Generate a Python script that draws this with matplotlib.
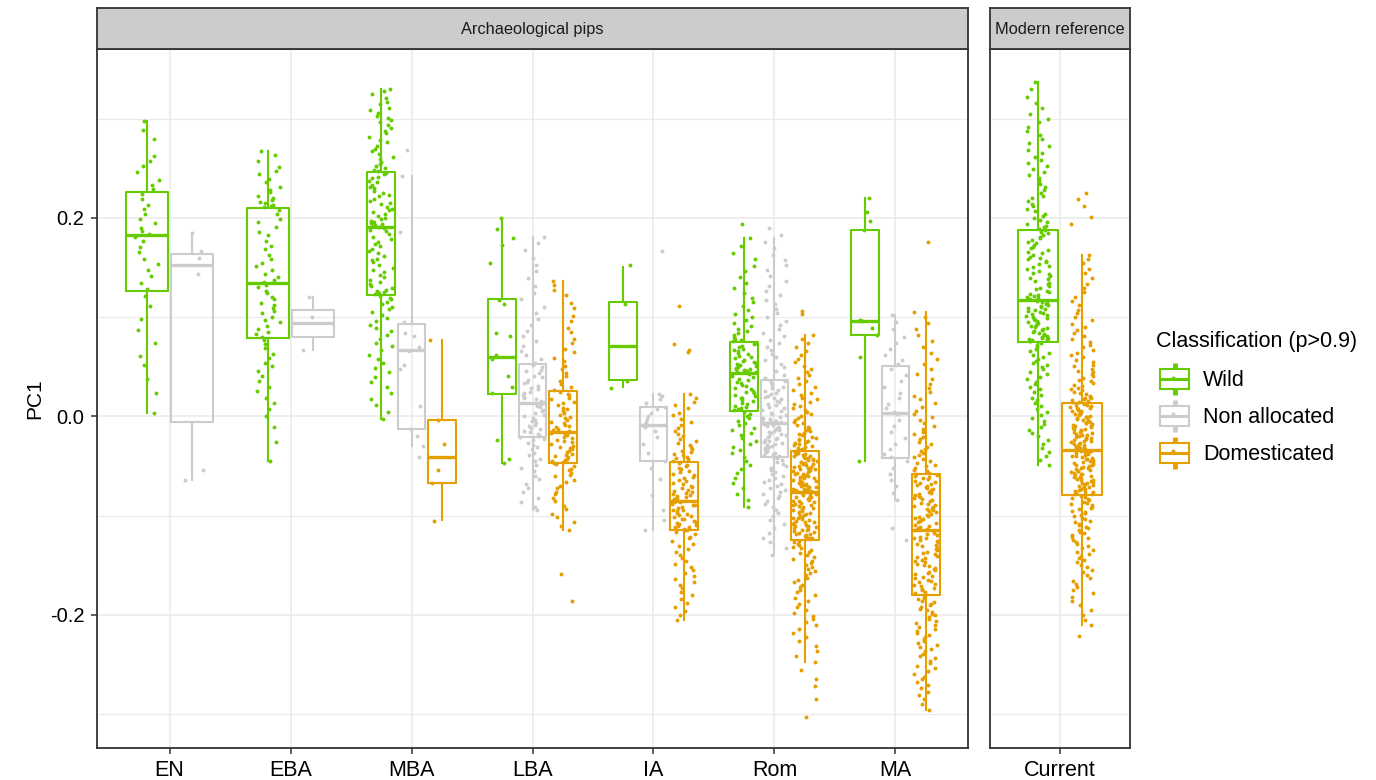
import numpy as np
import matplotlib.pyplot as plt
from matplotlib.patches import Rectangle

plt.rcParams['font.family'] = ['Liberation Sans', 'DejaVu Sans']

periods = ['EN', 'EBA', 'MBA', 'LBA', 'IA', 'Rom', 'MA']
modern = ['Current']
classes = ['Wild', 'Non allocated', 'Domesticated']
class_colours = ['#66CC00', '#CCCCCC', '#E69F00']

# one entry per box (PC1)
box_period = ['EN', 'EN', 'EBA', 'EBA', 'MBA', 'MBA', 'MBA', 'LBA', 'LBA', 'LBA',
              'IA', 'IA', 'IA', 'Rom', 'Rom', 'Rom', 'MA', 'MA', 'MA', 'Current', 'Current']
box_class = [0, 1, 0, 1, 0, 1, 2, 0, 1, 2, 0, 1, 2, 0, 1, 2, 0, 1, 2, 0, 2]
box_whislo = [0.003, -0.064, -0.045, 0.067, -0.003, -0.030, -0.104, -0.047, -0.094, -0.114,
              0.030, -0.114, -0.205, -0.091, -0.140, -0.247, -0.045, -0.084, -0.296, -0.049, -0.210]
box_q1 = [0.126, -0.006, 0.079, 0.080, 0.122, -0.013, -0.067, 0.023, -0.021, -0.047,
          0.037, -0.045, -0.114, 0.005, -0.041, -0.125, 0.082, -0.042, -0.180, 0.075, -0.079]
box_med = [0.183, 0.152, 0.134, 0.094, 0.191, 0.067, -0.041, 0.060, 0.013, -0.016,
           0.071, -0.009, -0.085, 0.044, -0.007, -0.076, 0.096, 0.003, -0.114, 0.117, -0.034]
box_q3 = [0.226, 0.164, 0.210, 0.107, 0.246, 0.093, -0.004, 0.118, 0.053, 0.026,
          0.115, 0.009, -0.046, 0.075, 0.037, -0.035, 0.188, 0.051, -0.058, 0.188, 0.013]
box_whishi = [0.297, 0.185, 0.267, 0.120, 0.330, 0.242, 0.077, 0.200, 0.181, 0.136,
              0.150, 0.023, 0.023, 0.180, 0.180, 0.082, 0.220, 0.102, 0.105, 0.337, 0.163]

# individual pips, PC1 in thousandths
en_wild = [297, 288, 279, 262, 257, 252, 246, 238, 233, 229, 224, 219, 213, 209, 204, 199, 195, 190,
           187, 184, 181, 177, 171, 166, 159, 153, 147, 141, 134, 128, 121, 111, 98, 87, 74, 61, 52, 38, 24, 3]
en_non = [185, 167, 160, 143, -54, -64]
eba_wild = [267, 263, 257, 251, 247, 244, 239, 236, 231, 228, 226, 222, 220, 218, 216, 215, 213, 212, 211,
            208, 204, 199, 196, 191, 186, 183, 177, 172, 169, 163, 159, 154, 151, 147, 143, 140, 137, 135,
            132, 130, 126, 124, 120, 118, 114, 112, 109, 106, 104, 100, 97, 95, 91, 88, 85, 83, 80,
            77, 73, 69, 63, 59, 54, 51, 46, 41, 36, 30, 26, 19, 13, 7, 0, -11, -26, -45]
eba_non = [120, 100, 67]
mba_wild = [330, 328, 325, 321, 317, 315, 311, 309, 306, 303, 301, 298, 296, 293, 290, 287, 285, 281, 278,
            276, 272, 269, 267, 264, 261, 259, 256, 254, 252, 250, 248, 247,
            245, 244, 241, 240, 237, 236, 233, 231, 230, 227, 225, 223, 222, 219, 217, 215, 214, 211, 209,
            208, 206, 204, 202, 200, 199, 197, 196, 195, 194, 193, 192, 191,
            190, 188, 187, 184, 181, 179, 176, 174, 172, 169, 167, 165, 162, 159, 157, 155, 152, 149, 147,
            145, 142, 140, 137, 135, 133, 131, 129, 127, 126, 125, 124, 123,
            121, 119, 118, 115, 113, 110, 108, 105, 102, 99, 96, 92, 89, 86, 82, 78, 74, 71, 67, 62, 58,
            54, 49, 45, 40, 35, 30, 24, 17, 11, 4, -3]
mba_non = [268, 242, 186, 95, 84, 81, 70, 66, 52, 48, 10, -13, -20, -30, -41]
mba_dom = [77, -4, -28, -54, -67, -105]
lba_wild = [200, 189, 180, 173, 154, 117, 113, 84, 81, 62, 58, 41, 30, 24, -24, -43, -47]
lba_non = [181, 175, 168, 160, 152, 146, 139, 131, 124, 118, 110, 104, 98, 92, 86, 81, 76, 71, 66, 62, 58, 54,
           52, 50, 47, 46, 44, 41, 40, 37, 35, 34, 31, 29, 28, 25, 24, 22, 20, 18, 17, 15, 14, 13,
           12, 10, 9, 6, 5, 3, 1, 0, -2, -4, -5, -7, -9, -10, -12, -13, -15, -16, -18, -19, -20, -21,
           -23, -24, -27, -29, -31, -33, -37, -39, -43, -45, -49, -52, -55, -60, -63, -68, -72, -76,
           -82, -86, -91, -94]
lba_dom = [136, 132, 127, 122, 114, 109, 101, 96, 89, 85, 78, 74, 68, 65, 59, 56, 51, 48, 44, 41, 36, 33, 30, 27,
           25, 23, 22, 19, 17, 14, 13, 11, 8, 7, 5, 3, 1, -1, -2, -4, -6, -7, -9, -10, -11, -13, -14, -15,
           -17, -18, -19, -21, -22, -24, -25, -26, -28, -30, -31, -32, -33, -35, -36, -38, -39, -40, -41,
           -43, -44, -45, -46, -47, -48, -50, -53, -54, -57, -59, -60, -64, -66, -70, -72, -76, -78, -82,
           -85, -90, -93, -98, -101, -106, -110, -114, -159, -186]
ia_wild = [152, 113, 36, 29]
ia_non = [167, 23, 21, 17, 13, 9, 7, 3, 0, -3, -6, -9, -11, -15, -21, -28, -37, -45, -52, -63, -79, -94,
          -104, -114]
ia_dom = [111, 73, 67, 65, 23, 19, 14, 11, 8, 3, 1, -3, -6, -9, -12, -15, -18, -20, -23, -25, -27, -29, -31,
          -33, -35, -36, -38, -39, -41, -42, -43, -45, -46,
          -47, -49, -50, -52, -53, -55, -56, -58, -59, -61, -62, -64, -65, -67, -68, -70, -71, -72, -74,
          -75, -76, -77, -78, -79, -80, -81, -82, -83, -84,
          -86, -86, -88, -89, -89, -91, -92, -94, -94, -95, -97, -98, -99, -100, -101, -103, -103, -105,
          -106, -107, -108, -109, -110, -111, -111, -112, -113, -114, -114,
          -116, -118, -121, -123, -126, -129, -131, -134, -137, -140, -143, -146, -149, -152, -155, -158,
          -161, -164, -167, -170, -173, -177, -180, -184, -188, -192, -196, -200, -205]
rom_wild = [194, 180, 172, 165, 158, 151, 146, 140, 134, 129, 124, 119, 115, 111, 107, 103, 100, 97, 94, 91,
            88, 86, 84, 82, 80, 78, 77, 76,
            74, 73, 71, 70, 68, 67, 66, 64, 63, 61, 60, 59, 57, 56, 55, 54, 53, 52, 51, 50, 49, 48, 48, 47,
            46, 46, 45, 45,
            44, 43, 41, 40, 38, 37, 35, 34, 32, 31, 29, 28, 26, 25, 24, 22, 21, 19, 18, 16, 15, 13, 12, 10,
            9, 8, 7, 6,
            4, 2, 0, -2, -5, -7, -9, -12, -14, -17, -19, -22, -25, -28, -31, -34, -37, -41, -45, -49, -53,
            -57, -62, -67, -72, -78, -84, -91]
rom_non = [190, 183, 176, 170, 163, 157, 152, 147, 141, 136, 131, 126, 122, 117, 113, 108, 104, 100, 96, 92,
           88, 84, 81, 77, 74, 70, 67, 63, 60, 57, 53, 50, 46, 42, 39,
           36, 35, 33, 32, 30, 29, 27, 26, 24, 23, 21, 20, 18, 17, 15, 14, 12, 11, 9, 8, 6, 5, 3, 2, 1,
           -1, -2, -3, -4, -5, -5, -6, -6, -7, -7,
           -8, -9, -10, -11, -12, -13, -14, -15, -16, -17, -18, -19, -20, -21, -22, -23, -24, -25, -26,
           -27, -28, -29, -30, -31, -32, -33, -34, -35, -36, -37, -38, -39, -40, -40, -41,
           -42, -44, -46, -48, -50, -52, -54, -56, -58, -60, -62, -64, -66, -68, -70, -72, -74, -76, -78,
           -80, -82, -85, -88, -91, -94, -97, -100, -104, -108, -112, -117, -122, -127, -133, -140]
rom_dom = [106, 103, 82, 78, 74, 70, 66, 62, 58, 55, 51, 48, 45, 42, 39, 36, 33, 30, 27, 24, 22, 19, 17, 14,
           12, 10, 8, 6, 4, 2, 0, -2, -4, -6, -7, -9, -11, -12, -14, -15, -17, -18, -19, -21, -22, -23, -24,
           -25, -26, -27, -28, -29, -30, -31, -32, -33, -34, -35,
           -36, -36, -37, -38, -38, -39, -40, -40, -41, -42, -42, -43, -44, -44, -45, -46, -46, -47, -48,
           -48, -49, -50, -51, -51, -52, -53, -53, -54, -55, -55, -56, -57, -58, -58, -59, -60, -60, -61,
           -62, -62, -63, -64, -65, -65, -66, -67, -67, -68, -69, -69, -70, -71, -71, -72, -73, -73, -74,
           -74, -75, -75,
           -77, -77, -78, -79, -80, -81, -81, -82, -83, -84, -85, -85, -86, -87, -88, -89, -89, -90, -91,
           -92, -93, -93, -94, -95, -96, -97, -97, -98, -99, -100, -101, -102, -102, -103, -104, -105,
           -106, -106, -107, -108, -109, -110, -110, -111, -112, -113, -114, -114, -115, -116, -117, -118,
           -118, -119, -120, -121, -122, -122, -123, -124,
           -126, -127, -129, -130, -132, -133, -135, -137, -138, -140, -142, -144, -146, -148, -150, -152,
           -154, -156, -158, -160, -163, -165, -167, -170, -172, -175, -177, -180, -183, -186, -189, -192,
           -195, -198, -201, -204, -207, -210, -214, -218, -222, -226, -231, -236, -241, -247, -255, -265,
           -272, -285, -303]
ma_wild = [220, 206, 197, 188, 97, 96, 89, 82, 60, -45]
ma_non = [102, 95, 88, 80, 74, 68, 62, 57, 53, 48, 42, 36, 30, 24, 18, 12, 8, 4,
          2, -4, -10, -16, -22, -28, -33, -38, -41, -45, -52, -58, -64, -70, -77, -84, -112, -125]
ma_dom = [176, 105, 100, 94, 88, 82, 76, 70, 64, 58, 53, 48, 43, 38, 33, 29, 25, 21, 17, 13, 9, 5, 2, -1,
          -4, -7, -10, -13, -16, -18, -21, -23, -26, -28, -31, -33, -35, -37, -39, -41, -43, -45, -47,
          -49, -50, -52, -54, -55, -57, -58,
          -59, -60, -61, -62, -63, -65, -66, -67, -68, -69, -70, -71, -72, -73, -74, -76, -77, -78, -79,
          -80, -81, -82, -83, -84, -85, -87, -88, -89, -90, -91, -92, -93, -94, -95, -96, -98, -99,
          -100, -101, -102, -103, -104, -105, -106, -107, -109, -110, -111, -112, -113,
          -114, -115, -117, -118, -119, -121, -122, -123, -125, -126, -127, -129, -130, -131, -133, -134,
          -135, -137, -138, -139, -141, -142, -143, -145, -146, -147, -149, -150, -151, -153, -154, -155,
          -157, -158, -159, -161, -162, -163, -165, -166, -167, -169, -170, -171, -173, -174, -175, -177,
          -178, -180,
          -181, -183, -184, -186, -187, -189, -190, -192, -194, -195, -197, -199, -200, -202, -204, -206,
          -208, -210, -212, -214, -216, -218, -220, -222, -224, -226, -228, -230, -232, -234, -236, -239,
          -241, -243, -246, -248, -251, -253, -256, -259, -262, -265, -268, -271, -274, -278, -281, -285,
          -290, -296]
cur_wild = [337, 330, 322, 316, 311, 305, 300, 296, 291, 287, 283, 279, 275, 272, 268, 265, 261, 258, 255,
            252, 249, 246, 243, 240, 237, 234, 231, 228, 225, 222, 220, 217, 214, 212, 209, 207, 204, 202,
            200, 198, 196, 194, 192, 191, 189,
            188, 186, 185, 183, 181, 180, 178, 176, 175, 173, 171, 170, 168, 166, 165, 163, 161, 160, 158,
            156, 155, 153, 151, 150, 148, 146, 144, 143, 141, 139, 138, 136, 134, 133, 131, 129, 128, 126,
            125, 123, 122, 121, 120, 119, 118,
            116, 115, 114, 113, 112, 111, 110, 109, 108, 107, 106, 105, 104, 103, 102, 101, 100, 99, 98,
            97, 96, 95, 94, 93, 92, 91, 90, 89, 88, 87, 86, 85, 84, 83, 82, 81, 80, 79, 79, 78, 78, 77, 77,
            76, 76,
            74, 72, 70, 68, 66, 64, 62, 60, 58, 56, 54, 52, 50, 48, 45, 43, 40, 38, 35, 33, 30, 28, 25, 22,
            19, 16, 13, 10, 7, 4, 1, -2, -5, -8, -11, -14, -17, -20, -24, -28, -32, -36, -40, -44, -49]
cur_dom = [225, 219, 212, 201, 194, 163, 159, 154, 148, 144, 139, 133, 129, 125, 120, 116, 112, 107, 104,
           100, 97, 93, 90, 87, 84, 81, 78, 75, 72, 70, 67, 64, 62, 60, 57, 55, 52, 51, 48, 46, 45, 43,
           41, 39, 37, 36, 34, 32, 31, 29, 28, 27, 25, 24, 23, 21, 20, 19, 18, 17, 16, 15, 14, 14,
           12, 11, 11, 10, 9, 8, 8, 7, 6, 5, 5, 4, 3, 2, 2, 1, 0, -1, -1, -2, -3, -4, -4, -5, -6, -7, -7,
           -8, -9, -10, -10, -11, -12, -13, -13, -14, -15, -16, -16, -17, -18, -19, -19, -20, -21, -22,
           -22, -23, -24, -25, -25, -26, -27, -28, -28, -29, -30, -31, -31, -32, -33, -33,
           -35, -35, -36, -37, -37, -38, -39, -40, -40, -41, -42, -43, -43, -44, -45, -46, -46, -47, -48,
           -49, -49, -50, -51, -52, -52, -53, -54, -55, -55, -56, -57, -58, -58, -59, -60, -61, -61, -62,
           -63, -64, -64, -65, -66, -67, -67, -68, -69, -70, -70, -71, -72, -73, -73, -74, -75, -76, -76,
           -77, -78, -78,
           -80, -81, -82, -83, -84, -86, -87, -88, -89, -91, -92, -93, -95, -96, -97, -99, -100, -102,
           -103, -105, -106, -108, -109, -111, -112, -114, -116, -117, -119, -121, -123, -125, -127, -129,
           -131, -133, -135, -137, -139, -141, -143, -145, -147, -150, -152, -155, -157, -160, -163, -166,
           -169, -172, -175, -178, -182, -186, -190, -195, -200, -205, -210, -221]

box_points = [en_wild, en_non, eba_wild, eba_non, mba_wild, mba_non, mba_dom, lba_wild, lba_non, lba_dom,
              ia_wild, ia_non, ia_dom, rom_wild, rom_non, rom_dom, ma_wild, ma_non, ma_dom, cur_wild, cur_dom]

W, H = 1376, 780


def fax(l, t, r, b):
    return [l / W, 1 - b / H, (r - l) / W, (b - t) / H]


fig = plt.figure(figsize=(W / 100, H / 100), dpi=100)
ax_a = fig.add_axes(fax(97, 49, 968, 748))
ax_m = fig.add_axes(fax(990, 49, 1130, 748))
border = '#333333'

for ax, cats in [(ax_a, periods), (ax_m, modern)]:
    ax.set_xlim(-0.6, len(cats) - 0.4)
    ax.set_ylim(-0.334, 0.370)
    ax.set_xticks(range(len(cats)))
    ax.set_xticklabels(cats, fontsize=15.5)
    ax.set_yticks([-0.2, 0.0, 0.2])
    ax.set_yticks([-0.3, -0.1, 0.1, 0.3], minor=True)
    ax.grid(which='major', color='#EBEBEB', lw=1.2)
    ax.grid(which='minor', axis='y', color='#EBEBEB', lw=0.9)
    ax.set_axisbelow(True)
    ax.tick_params(which='major', length=4, width=1.1, color=border, pad=5)
    ax.tick_params(which='minor', length=0)
    for s in ax.spines.values():
        s.set_color(border)
        s.set_linewidth(1.3)

ax_a.set_yticklabels(['-0.2', '0.0', '0.2'], fontsize=14.5)
ax_a.set_ylabel('PC1', fontsize=15)
ax_m.tick_params(axis='y', length=0, labelleft=False)

for i in range(len(box_period)):
    p = box_period[i]
    if p in periods:
        ax, ci = ax_a, periods.index(p)
    else:
        ax, ci = ax_m, modern.index(p)
    same = [j for j in range(len(box_period)) if box_period[j] == p]
    n, k = len(same), same.index(i)
    slot = 0.75 / n
    pos = ci + (k - (n - 1) / 2) * slot
    c = class_colours[box_class[i]]
    stats = dict(whislo=box_whislo[i], q1=box_q1[i], med=box_med[i], q3=box_q3[i],
                 whishi=box_whishi[i], fliers=[])
    ax.bxp([stats], positions=[pos], widths=[slot * 0.92], showcaps=False, showfliers=False,
           manage_ticks=False,
           boxprops=dict(color=c, lw=1.5), whiskerprops=dict(color=c, lw=1.5),
           medianprops=dict(color=c, lw=2.4, solid_capstyle='butt'), zorder=2)
    y = np.array(box_points[i]) / 1000
    idx = np.arange(len(y)) + 37 * i
    jit = (np.sin(idx * 12.9898 + 4.1) * 43758.5453) % 1 - 0.5
    ax.scatter(pos + jit * 0.2, y, s=8, color=c, lw=0, zorder=3)

# facet strips
for (l, r), label in [((97, 968), 'Archaeological pips'), ((990, 1130), 'Modern reference')]:
    st = fig.add_axes(fax(l, 8, r, 49))
    st.set_facecolor('#CCCCCC')
    st.set_xticks([])
    st.set_yticks([])
    for s in st.spines.values():
        s.set_color(border)
        s.set_linewidth(1.3)
    st.text(0.5, 0.47, label, ha='center', va='center', fontsize=11.8, color='#1A1A1A',
            transform=st.transAxes)

# legend drawn in pixel space
lg = fig.add_axes([0, 0, 1, 1])
lg.set_xlim(0, W)
lg.set_ylim(H, 0)
lg.axis('off')
lg.text(1156, 347, 'Classification (p>0.9)', fontsize=15.5, va='baseline', ha='left')
for k, (name, c) in enumerate(zip(classes, class_colours)):
    cy = 379 + k * 36.8
    lg.add_patch(Rectangle((1160, cy - 10), 29, 20, fill=False, ec=c, lw=1.5))
    lg.plot([1160, 1189], [cy, cy], color=c, lw=2.2, solid_capstyle='butt')
    lg.plot([1174.5, 1174.5], [cy - 16, cy - 10], color=c, lw=3.5, solid_capstyle='butt')
    lg.plot([1174.5, 1174.5], [cy + 10, cy + 16], color=c, lw=3.5, solid_capstyle='butt')
    lg.scatter([1173], [cy - 1.5], s=8, color=c, lw=0)
    lg.text(1203, cy + 7.5, name, fontsize=15.5, va='baseline', ha='left')

fig.savefig('out.png', dpi=100)
